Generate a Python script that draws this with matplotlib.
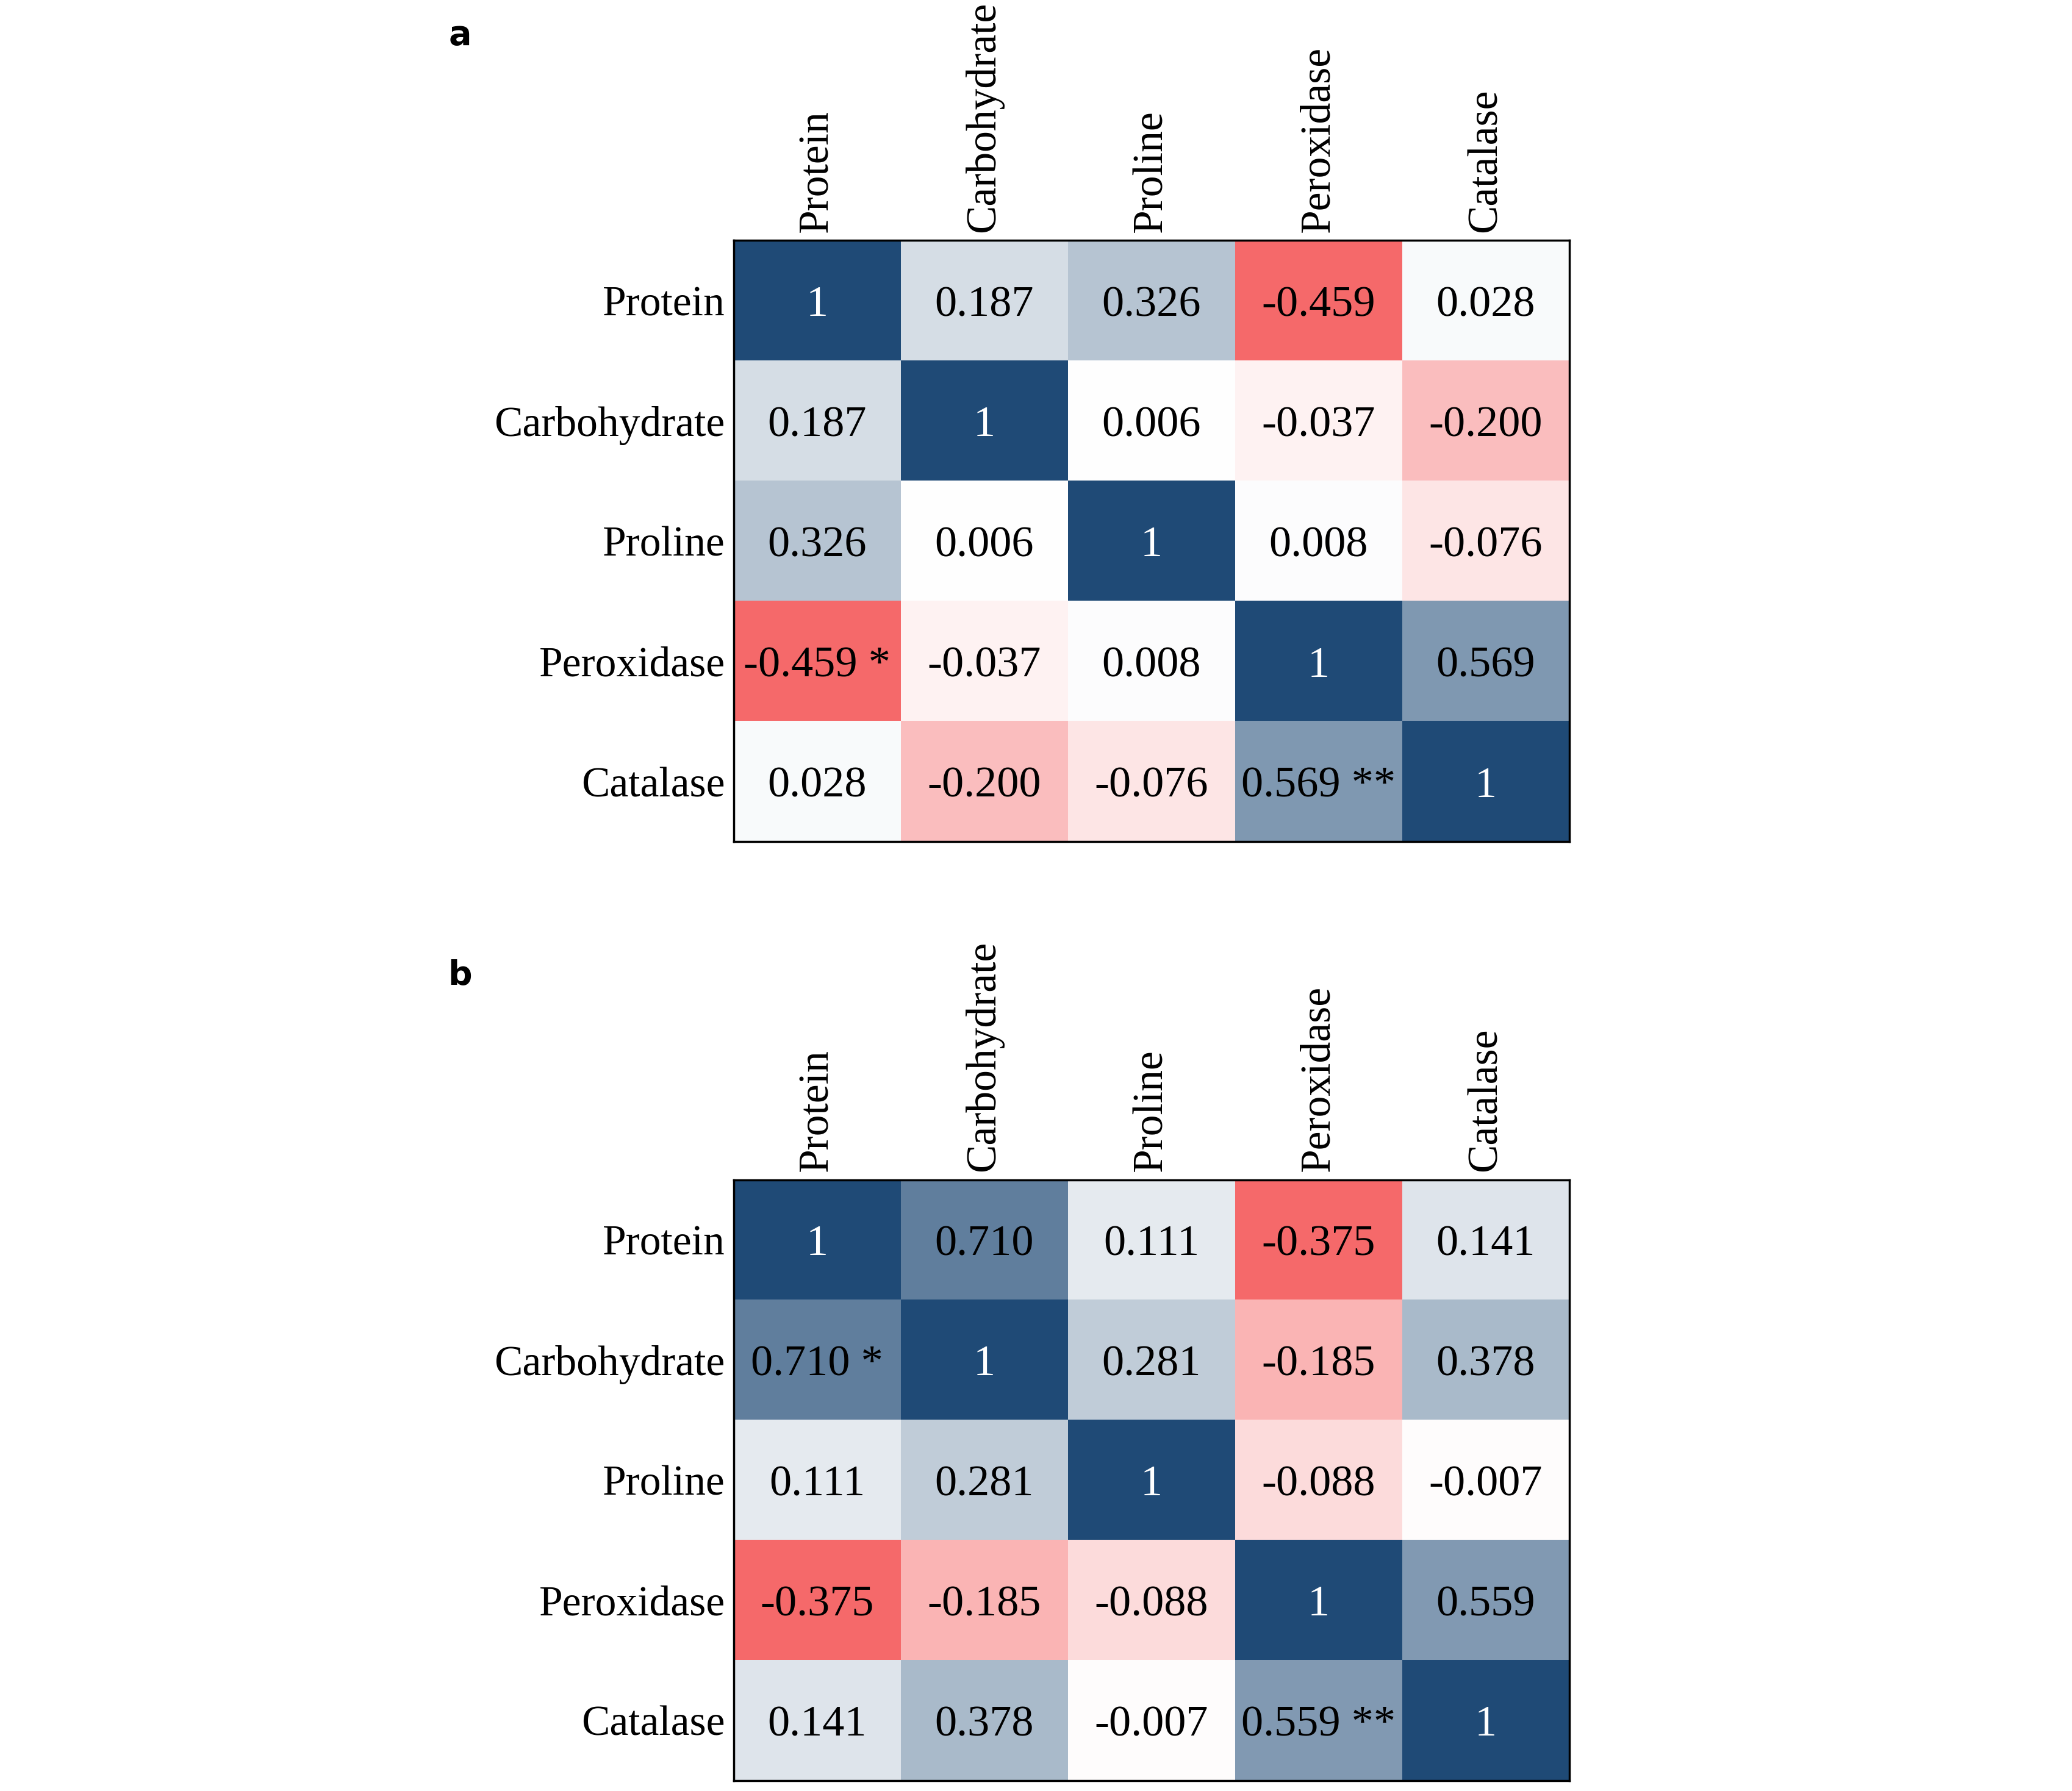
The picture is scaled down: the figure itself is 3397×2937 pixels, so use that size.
import numpy as np
import matplotlib
matplotlib.use('Agg')
import matplotlib.pyplot as plt
from matplotlib.colors import LinearSegmentedColormap, TwoSlopeNorm

# --- Datos ---
variables = ['Protein', 'Carbohydrate', 'Proline', 'Peroxidase', 'Catalase']

corr_a = np.array([
    [1.000, 0.187, 0.326, -0.459, 0.028],
    [0.187, 1.000, 0.006, -0.037, -0.200],
    [0.326, 0.006, 1.000, 0.008, -0.076],
    [-0.459, -0.037, 0.008, 1.000, 0.569],
    [0.028, -0.200, -0.076, 0.569, 1.000],
])
sig_a = {(3, 0): '*', (4, 3): '**'}

corr_b = np.array([
    [1.000, 0.710, 0.111, -0.375, 0.141],
    [0.710, 1.000, 0.281, -0.185, 0.378],
    [0.111, 0.281, 1.000, -0.088, -0.007],
    [-0.375, -0.185, -0.088, 1.000, 0.559],
    [0.141, 0.378, -0.007, 0.559, 1.000],
])
sig_b = {(1, 0): '*', (4, 3): '**'}

plt.rcParams['font.family'] = ['Liberation Serif', 'DejaVu Serif']

cmap = LinearSegmentedColormap.from_list('rojo_azul', ['#f5696a', '#ffffff', '#1f4a76'])

fig = plt.figure(figsize=(33.97, 29.37), dpi=100)

TAM = 52


def dibujar_panel(rect, corr, sig, letra, letra_y):
    ax = fig.add_axes(rect)
    norm = TwoSlopeNorm(vmin=corr.min(), vcenter=0.0, vmax=1.0)
    ax.imshow(corr, cmap=cmap, norm=norm, aspect='auto')
    n = len(variables)
    for i in range(n):
        for j in range(n):
            v = corr[i, j]
            if v == 1:
                txt = '1'
                color = 'white'
            else:
                txt = f'{v:.3f}'
                color = 'black'
            if (i, j) in sig:
                txt += ' ' + sig[(i, j)]
            ax.text(j, i, txt, ha='center', va='center_baseline', fontsize=TAM, color=color)
    ax.set_xticks(range(n))
    ax.set_yticks(range(n))
    ax.set_xticklabels(variables, rotation=90, fontsize=50)
    ax.set_yticklabels(variables, fontsize=50, va='center_baseline')
    ax.xaxis.tick_top()
    ax.tick_params(length=0, pad=10)
    for s in ax.spines.values():
        s.set_linewidth(2.5)
        s.set_color('black')
    fig.text(0.222, letra_y, letra, fontsize=40, fontweight='bold',
             family='DejaVu Sans', ha='center', va='center')
    return ax


dibujar_panel([0.354, 0.530, 0.4033, 0.3357], corr_a, sig_a, 'a', 1 - 58 / 2937)
dibujar_panel([0.354, 0.0058, 0.4033, 0.3354], corr_b, sig_b, 'b', 1 - 1599 / 2937)

fig.savefig('out.png', dpi=100, facecolor='white')
